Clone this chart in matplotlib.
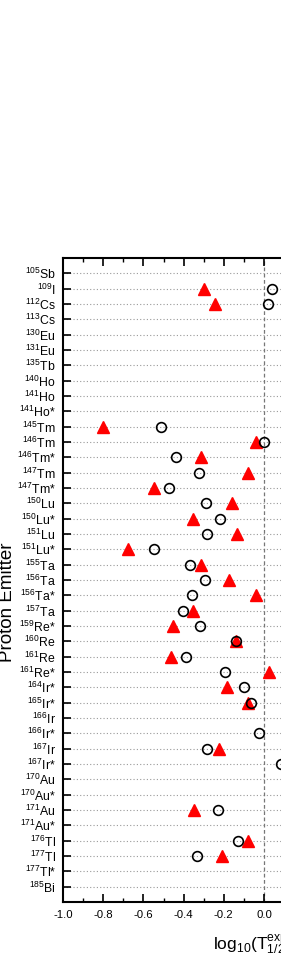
import numpy as np
import matplotlib
matplotlib.use("Agg")
import matplotlib.pyplot as plt
from matplotlib.ticker import MultipleLocator

plt.rcParams['font.family'] = ['Liberation Sans', 'DejaVu Sans']
plt.rcParams['mathtext.fontset'] = 'custom'
plt.rcParams['mathtext.rm'] = 'Liberation Sans'
plt.rcParams['mathtext.it'] = 'Liberation Sans'
plt.rcParams['mathtext.bf'] = 'Liberation Sans:bold'

emitters = ["105Sb", "109I", "112Cs", "113Cs", "130Eu", "131Eu", "135Tb", "140Ho",
            "141Ho", "141Ho*", "145Tm", "146Tm", "146Tm*", "147Tm", "147Tm*",
            "150Lu", "150Lu*", "151Lu", "151Lu*", "155Ta", "156Ta", "156Ta*",
            "157Ta", "159Re*", "160Re", "161Re", "161Re*", "164Ir*", "165Ir*",
            "166Ir", "166Ir*", "167Ir", "167Ir*", "170Au", "170Au*", "171Au",
            "171Au*", "176Tl", "177Tl", "177Tl*", "185Bi"]

nan = np.nan
circles = [nan, 0.04, 0.022, nan, nan, nan, nan, nan,
           nan, nan, -0.513, 0.0, -0.437, -0.325, -0.475,
           -0.290, -0.220, -0.286, -0.546, -0.368, -0.293, -0.359,
           -0.404, -0.318, -0.141, -0.387, -0.192, -0.101, -0.065,
           nan, -0.025, -0.286, 0.086, nan, nan, -0.227,
           nan, -0.129, -0.331, nan, nan]

triangles = [nan, -0.30, -0.242, nan, nan, nan, nan, nan,
             nan, nan, -0.80, -0.041, -0.315, -0.079, -0.548,
             -0.159, -0.351, -0.134, -0.679, -0.315, -0.172, -0.038,
             -0.351, -0.455, -0.137, -0.465, 0.025, -0.184, -0.079,
             nan, nan, -0.222, nan, nan, nan, -0.348,
             nan, -0.078, -0.210, nan, nan]

def fmt(lbl):
    i = 0
    while lbl[i].isdigit():
        i += 1
    return r"$^{%s}$%s" % (lbl[:i], lbl[i:])

W, H = 281, 975
fig = plt.figure(figsize=(W / 100, H / 100), dpi=100)
xmin, xmax = -1.0, 1.06
left_px, zero_px = 63, 264
ppu = (zero_px - left_px) / (0 - xmin)
right_px = zero_px + xmax * ppu
ax = fig.add_axes([left_px / W, (H - 902) / H, (right_px - left_px) / W, (902 - 258) / H])

ypos = np.arange(1, len(emitters) + 1)
for y in ypos:
    ax.axhline(y, color='#999999', lw=0.8, ls=(0, (1, 2)), zorder=0)
ax.axvline(0, color='#777777', lw=0.9, ls=(0, (3, 2)), zorder=0)

ax.plot(triangles, ypos, ls='none', marker='^', ms=8.5, color='red', mec='red', zorder=3)
ax.plot(circles, ypos, ls='none', marker='o', ms=7, mfc='none', mec='black', mew=1.2, zorder=4)

ax.set_xlim(xmin, xmax)
ax.set_ylim(len(emitters) + 1, 0)
ax.set_yticks(ypos)
ax.set_yticklabels([fmt(e) for e in emitters], fontsize=8.8)
ax.xaxis.set_major_locator(MultipleLocator(0.2))
ax.xaxis.set_minor_locator(MultipleLocator(0.1))
ax.xaxis.set_major_formatter(matplotlib.ticker.FuncFormatter(lambda v, p: "%.1f" % v))
ax.tick_params(axis='x', which='major', direction='in', length=6, width=1.2, top=True, labelsize=8.2, pad=6)
ax.tick_params(axis='x', which='minor', direction='in', length=3, width=1.0, top=True)
ax.tick_params(axis='y', which='major', direction='in', length=6, width=1.2, labelsize=8.8, pad=5)
for s in ax.spines.values():
    s.set_linewidth(1.5)

ax.set_xlabel(r"log$_{10}$(T$_{1/2}^{exp}$/T$_{1/2}^{cal}$)", fontsize=12.5, labelpad=9)
ax.set_ylabel("Proton Emitter", fontsize=13.5)
ax.yaxis.set_label_coords(-47 / (right_px - left_px), 0.466)

fig.savefig("out.png", dpi=100)
